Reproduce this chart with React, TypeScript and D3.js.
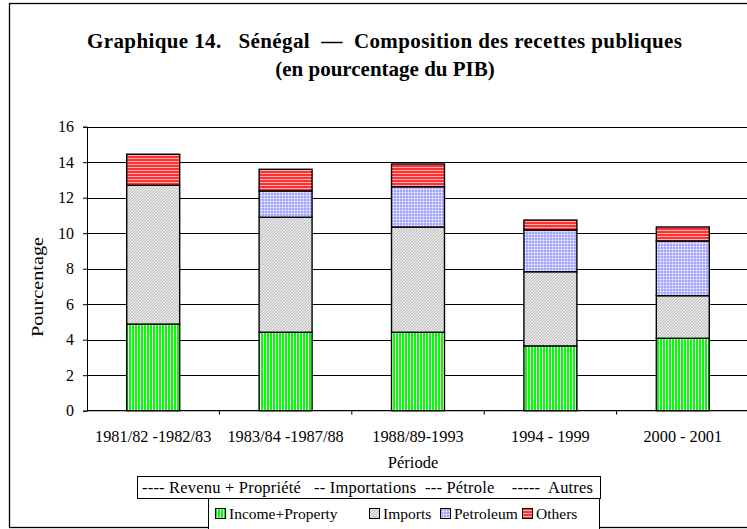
import { useEffect, useRef } from 'react';
import * as d3 from 'd3';

const periods = ['1981/82 -1982/83', '1983/84 -1987/88', '1988/89-1993', '1994 - 1999', '2000 - 2001'];
const seriesNames = ['Income+Property', 'Imports', 'Petroleum', 'Others'];
const incomeProperty = [4.88, 4.42, 4.42, 3.65, 4.08];
const imports = [7.82, 6.48, 5.93, 4.18, 2.4];
const petroleum = [0, 1.48, 2.27, 2.35, 3.08];
const others = [1.75, 1.22, 1.28, 0.56, 0.79];
const yTicks = [0, 2, 4, 6, 8, 10, 12, 14, 16];

const W = 747;
const H = 529;
const serif = 'Liberation Serif';

const App = () => {
  const svgRef = useRef(null);

  useEffect(() => {
    const svg = d3.select(svgRef.current);
    svg.selectAll('*').remove();
    svg.style('font-family', serif);

    const defs = svg.append('defs');
    // vertical green stripes
    const pInc = defs.append('pattern').attr('id', 'p-inc').attr('patternUnits', 'userSpaceOnUse')
      .attr('width', 3).attr('height', 4);
    pInc.append('rect').attr('width', 3).attr('height', 4).attr('fill', '#00ff00');
    pInc.append('rect').attr('x', 2).attr('width', 1).attr('height', 4).attr('fill', '#ffffff');
    // grey diagonal hatch
    const pImp = defs.append('pattern').attr('id', 'p-imp').attr('patternUnits', 'userSpaceOnUse')
      .attr('width', 3).attr('height', 3);
    pImp.append('rect').attr('width', 3).attr('height', 3).attr('fill', '#e6e6e6');
    pImp.append('path').attr('d', 'M0,3 L3,0 M-1,1 L1,-1 M2,4 L4,2').attr('stroke', '#b0b0b0').attr('stroke-width', 0.8);
    // blue dotted grid
    const pPet = defs.append('pattern').attr('id', 'p-pet').attr('patternUnits', 'userSpaceOnUse')
      .attr('width', 3).attr('height', 3);
    pPet.append('rect').attr('width', 3).attr('height', 3).attr('fill', '#c4c4ff');
    pPet.append('rect').attr('width', 1).attr('height', 1).attr('fill', '#ffffff');
    pPet.append('rect').attr('x', 1.5).attr('y', 1.5).attr('width', 1).attr('height', 1).attr('fill', '#5a5aee');
    // red horizontal stripes
    const pOth = defs.append('pattern').attr('id', 'p-oth').attr('patternUnits', 'userSpaceOnUse')
      .attr('width', 4).attr('height', 3);
    pOth.append('rect').attr('width', 4).attr('height', 3).attr('fill', '#ff3030');
    pOth.append('rect').attr('y', 2).attr('width', 4).attr('height', 1).attr('fill', '#ffb0b0');

    const fills = ['url(#p-inc)', 'url(#p-imp)', 'url(#p-pet)', 'url(#p-oth)'];

    svg.append('rect').attr('width', W).attr('height', H).attr('fill', '#ffffff');

    // outer frame
    svg.append('rect')
      .attr('x', 9.5).attr('y', 3.5).attr('width', W + 10).attr('height', 524)
      .attr('fill', 'none').attr('stroke', '#000').attr('stroke-width', 1.3);

    const left = 87;
    const right = 749;
    const top = 126.7;
    const bottom = 410.7;

    const x = d3.scaleBand().domain(periods).range([left, right]).paddingInner(0.6).paddingOuter(0.3);
    const xb = d3.scaleBand().domain(periods).range([left, right]);
    const y = d3.scaleLinear().domain([0, 16]).range([bottom, top]);

    // gridlines
    svg.append('g').selectAll('line').data(yTicks.filter(t => t > 0)).join('line')
      .attr('x1', left).attr('x2', right)
      .attr('y1', d => Math.round(y(d)) + 0.5).attr('y2', d => Math.round(y(d)) + 0.5)
      .attr('stroke', '#000').attr('stroke-width', 1);

    // stacked bars
    const rows = periods.map((p, i) => ({
      period: p,
      'Income+Property': incomeProperty[i],
      Imports: imports[i],
      Petroleum: petroleum[i],
      Others: others[i],
    }));
    const stacked = d3.stack().keys(seriesNames)(rows);

    svg.append('g').selectAll('g').data(stacked).join('g')
      .attr('fill', (d, i) => fills[i])
      .selectAll('rect')
      .data(d => d.filter(v => v[1] - v[0] > 0))
      .join('rect')
      .attr('x', d => x(d.data.period))
      .attr('width', x.bandwidth())
      .attr('y', d => y(d[1]))
      .attr('height', d => y(d[0]) - y(d[1]))
      .attr('stroke', '#000')
      .attr('stroke-width', 1.4);

    // y axis
    const yAxis = svg.append('g').attr('transform', `translate(${left},0)`)
      .call(d3.axisLeft(y).tickValues(yTicks).tickSize(4).tickPadding(9).tickFormat(d3.format('d')));
    yAxis.select('.domain').attr('stroke', '#000').attr('stroke-width', 1);
    yAxis.selectAll('text').style('font-family', serif).style('font-size', '16px').attr('fill', '#000');

    // x axis
    const xAxis = svg.append('g').attr('transform', `translate(0,${bottom})`);
    xAxis.append('line').attr('x1', left).attr('x2', right).attr('stroke', '#000').attr('stroke-width', 1.2);
    xAxis.selectAll('line.tick').data(periods.slice(1)).join('line').attr('class', 'tick')
      .attr('x1', d => xb(d)).attr('x2', d => xb(d)).attr('y1', 0).attr('y2', 4)
      .attr('stroke', '#000');
    xAxis.selectAll('text').data(periods).join('text')
      .attr('x', d => xb(d) + xb.bandwidth() / 2)
      .attr('y', 31)
      .attr('text-anchor', 'middle')
      .style('font-family', serif).style('font-size', '16.3px')
      .text(d => d);

    // axis titles
    svg.append('text').attr('x', 413).attr('y', 468).attr('text-anchor', 'middle')
      .style('font-family', serif).style('font-size', '16.5px').text('Période');
    svg.append('text').attr('transform', `translate(43,287) rotate(-90)`)
      .attr('text-anchor', 'middle').attr('textLength', 100).attr('lengthAdjust', 'spacingAndGlyphs')
      .style('font-family', serif).style('font-size', '16px').text('Pourcentage');

    // title
    const title = svg.append('text').attr('text-anchor', 'middle')
      .style('font-family', serif).style('font-weight', 'bold').style('font-size', '21px')
      .style('white-space', 'pre');
    title.append('tspan').attr('x', 384.5).attr('y', 47.5)
      .attr('textLength', 595).attr('lengthAdjust', 'spacing')
      .text('Graphique 14.   Sénégal  —  Composition des recettes publiques');
    title.append('tspan').attr('x', 385).attr('y', 75.5).text('(en pourcentage du PIB)');

    // French legend box
    svg.append('rect').attr('x', 137.5).attr('y', 476.5).attr('width', 463).attr('height', 22)
      .attr('fill', '#fff').attr('stroke', '#000').attr('stroke-width', 1);
    svg.append('text').attr('x', 142).attr('y', 493)
      .attr('textLength', 451).attr('lengthAdjust', 'spacing')
      .style('font-family', serif).style('font-size', '16.5px').style('white-space', 'pre')
      .text('---- Revenu + Propriété   -- Importations  --- Pétrole    -----  Autres');

    // series legend box
    svg.append('rect').attr('x', 208.5).attr('y', 498.5).attr('width', 391).attr('height', 40)
      .attr('fill', '#fff').attr('stroke', '#000').attr('stroke-width', 1);
    const legendX = [215, 369, 440, 522];
    const leg = svg.append('g').selectAll('g').data(seriesNames).join('g')
      .attr('transform', (d, i) => `translate(${legendX[i]},508)`);
    leg.append('rect').attr('x', 0.5).attr('y', 0.5).attr('width', 10).attr('height', 10).attr('fill', (d, i) => fills[i])
      .attr('stroke', '#000').attr('stroke-width', 1);
    leg.append('text').attr('x', 14).attr('y', 11)
      .style('font-family', serif).style('font-size', '15.5px').text(d => d);
  }, []);

  return (
    <div style={{ position: 'fixed', left: 0, top: 0 }}>
      <svg ref={svgRef} width={W} height={H} style={{ display: 'block' }} />
    </div>
  );
};

export default App;
